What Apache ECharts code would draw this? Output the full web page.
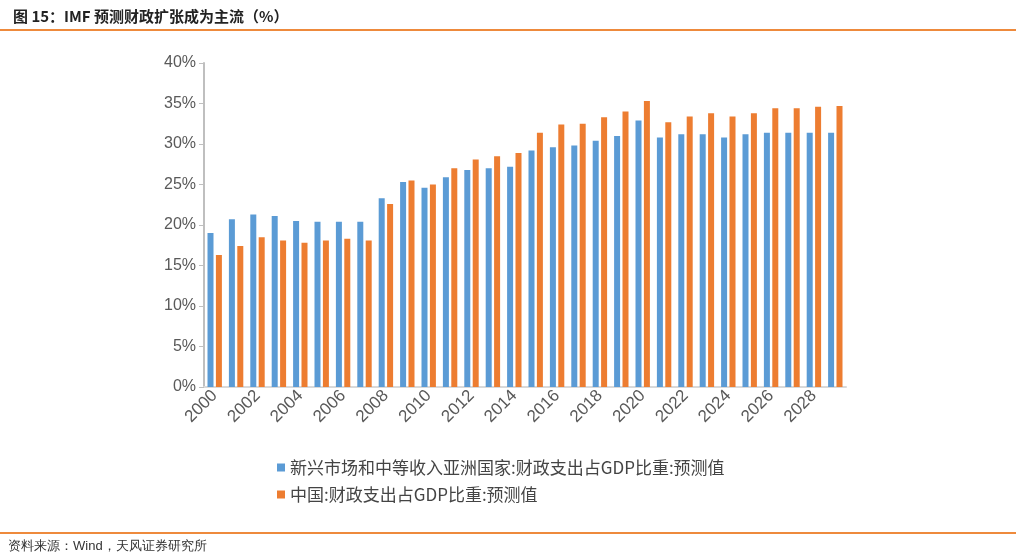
<!DOCTYPE html>
<html><head><meta charset="utf-8">
<script src="https://cdn.jsdelivr.net/npm/echarts@6/dist/echarts.min.js"></script>
<style>body{margin:0}#c{width:1016px;height:560px}</style>
</head><body><div id="c"></div>
<script>
var years = [];
for (var y = 2000; y <= 2029; y++) years.push(String(y));
var asiaEM = [19.0, 20.7, 21.3, 21.1, 20.5, 20.4, 20.4, 20.4, 23.3, 25.3, 24.6, 25.9, 26.8, 27.0, 27.2, 29.2, 29.6, 29.8, 30.4, 31.0, 32.9, 30.8, 31.2, 31.2, 30.8, 31.2, 31.4, 31.4, 31.4, 31.4];
var china = [16.3, 17.4, 18.5, 18.1, 17.8, 18.1, 18.3, 18.1, 22.6, 25.5, 25.0, 27.0, 28.1, 28.5, 28.9, 31.4, 32.4, 32.5, 33.3, 34.0, 35.3, 32.7, 33.4, 33.8, 33.4, 33.8, 34.4, 34.4, 34.6, 34.7];
var names = ['新兴市场和中等收入亚洲国家:财政支出占GDP比重:预测值', '中国:财政支出占GDP比重:预测值'];

var chart = echarts.init(document.getElementById('c'));
var font = '"Noto Sans CJK SC", sans-serif';
chart.setOption({
  textStyle: { fontFamily: font },
  title: {
    text: '图 15：IMF 预测财政扩张成为主流（%）', left: 8, top: 4,
    textStyle: { fontSize: 15, fontWeight: 'bold', color: '#222' }
  },
  graphic: [
    { type: 'rect', shape: { x: 0, y: 29, width: 1016, height: 2 }, style: { fill: '#ee8a3c' } },
    { type: 'rect', shape: { x: 0, y: 532, width: 1016, height: 2 }, style: { fill: '#ee8a3c' } },
    { type: 'text', left: 8, top: 540, style: { text: '资料来源：Wind，天风证券研究所', fontSize: 13, fill: '#333', font: '13px ' + font } }
  ],
  legend: {
    orient: 'vertical', left: 272, top: 454, itemGap: 10,
    itemWidth: 8, itemHeight: 8, icon: 'rect',
    textStyle: { fontSize: 17, color: '#444' },
    data: names
  },
  grid: { left: 204, right: 170, top: 63, bottom: 173 },
  xAxis: {
    type: 'category', data: years,
    axisLine: { lineStyle: { color: '#d9d9d9', width: 2 } },
    axisTick: { interval: 1, lineStyle: { color: '#d9d9d9' } },
    axisLabel: { interval: 1, rotate: 45, fontSize: 17, color: '#595959', margin: 6, fontFamily: '"Liberation Sans", sans-serif' }
  },
  yAxis: {
    type: 'value', min: 0, max: 40, interval: 5,
    axisLine: { show: true, lineStyle: { color: '#bfbfbf', width: 2 } },
    axisTick: { show: true, lineStyle: { color: '#bfbfbf' } },
    splitLine: { show: false },
    axisLabel: { formatter: '{value}%', fontSize: 16, color: '#595959', fontFamily: '"Liberation Sans", sans-serif' }
  },
  series: [
    { name: names[0], type: 'bar', data: asiaEM, barWidth: 6, barGap: '40%', itemStyle: { color: '#5b9bd5' } },
    { name: names[1], type: 'bar', data: china, barWidth: 6, itemStyle: { color: '#ed7d31' } }
  ]
});
</script></body></html>
